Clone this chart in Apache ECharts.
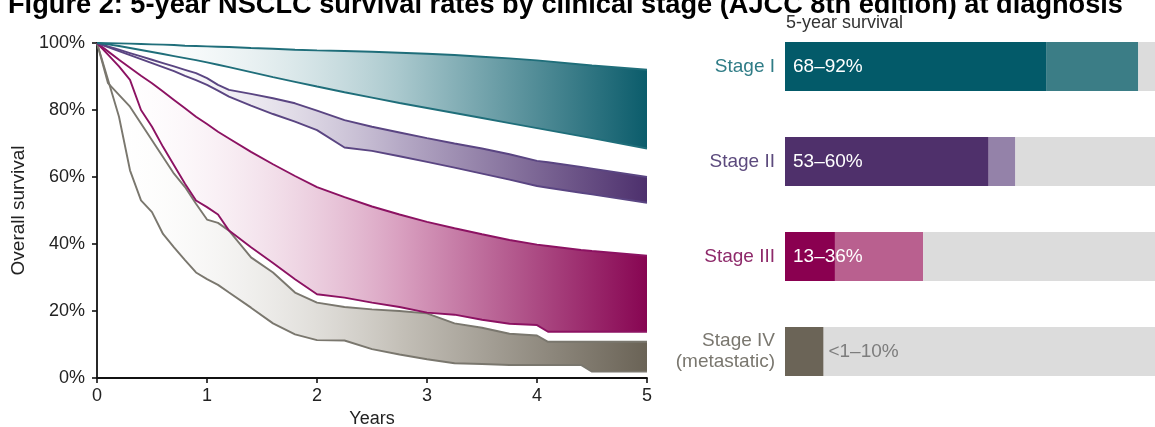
<!DOCTYPE html>
<html>
<head>
<meta charset="utf-8">
<script src="https://cdn.jsdelivr.net/npm/echarts@6/dist/echarts.min.js"></script>
<style>
html,body{margin:0;padding:0;background:#fff;overflow:hidden;width:1155px;height:427px;}
#chart{width:1169px;height:427px;}
</style>
</head>
<body>
<div id="chart"></div>
<script>
// ---- Data ----
var titleText = 'Figure 2: 5-year NSCLC survival rates by clinical stage (AJCC 8th edition) at diagnosis';
var years = [0, 0.1, 0.2, 0.3, 0.4, 0.5, 0.6, 0.7, 0.8, 0.9, 1.0, 1.1, 1.2, 1.4, 1.6, 1.8, 2.0, 2.25, 2.5, 2.75, 3.0, 3.25, 3.5, 3.75, 4.0, 4.1, 4.4, 4.5, 5.0];
var stage1Hi = [100, 99.95, 99.9, 99.8, 99.7, 99.6, 99.5, 99.4, 99.2, 99.1, 99, 98.9, 98.8, 98.5, 98.3, 98, 97.8, 97.6, 97.4, 97.1, 96.8, 96.4, 95.9, 95.4, 94.8, 94.5, 93.6, 93.3, 92];
var stage1Lo = [100, 99.6, 99.1, 98.5, 97.9, 97.3, 96.7, 96.1, 95.5, 94.9, 94.2, 93.5, 92.8, 91.3, 89.8, 88.4, 87, 85.3, 83.7, 82.1, 80.6, 79.1, 77.6, 76.1, 74.6, 74, 72.2, 71.6, 68.5];
var stage2Hi = [100, 99, 98, 97, 96, 95, 94, 93, 92, 91, 89.5, 87.5, 86, 84.8, 83.5, 82, 79.8, 77, 75, 73.3, 71.6, 70, 68.5, 66.8, 64.8, 64.4, 63, 62.5, 60];
var stage2Lo = [100, 98.8, 97.6, 96.4, 95.2, 94, 92.8, 91.6, 90.2, 88.9, 87.5, 85.8, 84, 81.3, 78.8, 76.5, 74, 68.8, 67.8, 66.2, 64.5, 62.8, 61, 59.2, 57.3, 56.8, 55.3, 54.8, 52.3];
var stage3Hi = [100, 97.5, 95, 92.6, 90.2, 88, 85.5, 83, 80.5, 78, 75.8, 73.5, 71.5, 67.5, 63.8, 60.3, 57, 54, 51.2, 48.8, 46.6, 44.7, 42.9, 41.2, 39.8, 39.4, 38.2, 37.9, 36.5];
var stage3Lo = [100, 96.5, 93, 89, 80, 75, 69, 63.5, 58, 53, 51, 48.8, 44, 39, 34.3, 29.5, 25, 24, 22.5, 21.2, 19.5, 18.9, 17.4, 16.2, 15.8, 13.8, 13.8, 13.8, 13.8];
var stage4Hi = [100, 88, 84.5, 81, 76, 71, 66, 61, 57, 52, 47.3, 46.3, 44, 36, 31.5, 25.5, 22.5, 21.2, 20.5, 20, 19.3, 16.3, 15, 13.2, 12.7, 10.8, 10.8, 10.8, 10.8];
var stage4Lo = [100, 89, 78, 62, 53, 49.5, 43, 39, 35.2, 31.5, 29.5, 27.8, 25.5, 21, 16.3, 13, 11.3, 11.2, 8.6, 7, 5.6, 4.4, 4.2, 3.9, 3.9, 3.9, 3.9, 1.9, 1.9];

var stageNames = ['Stage I', 'Stage II', 'Stage III', 'Stage IV\n(metastatic)'];
var barDarkEnd = [68, 53, 13, 10];
var barLightEnd = [92, 60, 36, 10];
var barLabels = ['68–92%', '53–60%', '13–36%', '<1–10%'];
var barTitle = '5-year survival';
var yTickLabels = ['0%', '20%', '40%', '60%', '80%', '100%'];

// ---- Styles ----
var FONT = '"Liberation Sans", Arial, sans-serif';
var lineColors = ['#1f6e7a', '#5a4582', '#8c1262', '#7a776e'];
var fillColors = ['#0b5c6b', '#4d306d', '#870552', '#6a6356'];
var midColors = ['#a9c8cd', '#b6aac6', '#d9a0c0', '#c4c0b8'];
var darkBar = ['#035a69', '#4f306b', '#8a0050', '#6b6457'];
var lightBar = ['#3b7d86', '#9482a9', '#b9608f', '#b0aca4'];
var stageLabelColors = ['#2f7c86', '#5c4a7d', '#8e2a6a', '#7a776f'];

function pairs(arr) { return years.map(function (t, i) { return [t, arr[i]]; }); }

var his = [stage1Hi, stage2Hi, stage3Hi, stage4Hi];
var los = [stage1Lo, stage2Lo, stage3Lo, stage4Lo];

var series = [];
// bands (custom polygons through the axis scales)
[3, 2, 1, 0].forEach(function (k) {
  series.push({
    type: 'custom', coordinateSystem: 'cartesian2d', xAxisIndex: 0, yAxisIndex: 0,
    data: [[0, 0]], silent: true, z: 2,
    renderItem: function (params, api) {
      var pts = [];
      for (var i = 0; i < years.length; i++) pts.push(api.coord([years[i], his[k][i]]));
      for (var j = years.length - 1; j >= 0; j--) pts.push(api.coord([years[j], los[k][j]]));
      return {
        type: 'polygon', shape: { points: pts },
        style: {
          fill: new echarts.graphic.LinearGradient(0, 0, 1, 0, [
            { offset: 0, color: 'rgba(255,255,255,0)' },
            { offset: 0.55, color: midColors[k] },
            { offset: 1, color: fillColors[k] }
          ])
        }
      };
    }
  });
});
// curves
[3, 2, 1, 0].forEach(function (k) {
  [los[k], his[k]].forEach(function (arr) {
    series.push({
      type: 'line', xAxisIndex: 0, yAxisIndex: 0,
      data: pairs(arr), showSymbol: false, symbol: 'none', silent: true,
      lineStyle: { color: lineColors[k], width: 1.9 }, z: 3
    });
  });
});

// bars
series.push({
  type: 'bar', stack: 'b', xAxisIndex: 1, yAxisIndex: 1, barWidth: 49, z: 5,
  data: barDarkEnd.map(function (v, i) {
    var item = { value: v, itemStyle: { color: darkBar[i] } };
    if (i === 3) item.label = { position: 'right', color: '#7d7d7d', distance: 5 };
    return item;
  }),
  label: {
    show: true, position: 'insideLeft', distance: 8, color: '#ffffff', fontSize: 19, fontFamily: FONT,
    formatter: function (p) { return barLabels[p.dataIndex]; }
  },
  silent: true
});
series.push({
  type: 'bar', stack: 'b', xAxisIndex: 1, yAxisIndex: 1, barWidth: 49, z: 4,
  data: barLightEnd.map(function (v, i) { return { value: v - barDarkEnd[i], itemStyle: { color: lightBar[i] } }; }),
  silent: true
});
series.push({
  type: 'bar', stack: 'b', xAxisIndex: 1, yAxisIndex: 1, barWidth: 49, z: 4,
  data: barLightEnd.map(function (v) { return 100 - v; }),
  itemStyle: { color: '#dcdcdc' },
  silent: true
});

var richStyles = {};
stageLabelColors.forEach(function (c, i) {
  richStyles['s' + i] = { color: c, fontSize: 19, fontFamily: FONT, lineHeight: 21, align: 'right' };
});

var chart = echarts.init(document.getElementById('chart'), null, { renderer: 'canvas' });
chart.setOption({
  animation: false,
  backgroundColor: '#ffffff',
  textStyle: { fontFamily: FONT },
  graphic: [
    { type: 'text', left: 8, top: -8, style: { text: titleText, font: 'bold 27.2px ' + FONT, fill: '#000' } },
    { type: 'text', left: 786, top: 14, style: { text: barTitle, font: '18px ' + FONT, fill: '#333' } }
  ],
  grid: [
    { left: 97, top: 43, width: 550, height: 335, outerBoundsMode: 'none', containLabel: false },
    { left: 785, top: 19, width: 384, height: 380, outerBoundsMode: 'none', containLabel: false }
  ],
  xAxis: [
    {
      gridIndex: 0, type: 'value', min: 0, max: 5, interval: 1,
      axisLine: { lineStyle: { color: '#111', width: 1.8 } },
      axisTick: { show: true, length: 5, lineStyle: { color: '#111', width: 1.6 } },
      axisLabel: { fontSize: 18, color: '#222', margin: 9, fontFamily: FONT },
      splitLine: { show: false },
      name: 'Years', nameLocation: 'middle', nameGap: 31,
      nameTextStyle: { fontSize: 18, color: '#222', fontFamily: FONT }
    },
    { gridIndex: 1, type: 'value', min: 0, max: 100, show: false }
  ],
  yAxis: [
    {
      gridIndex: 0, type: 'value', min: 0, max: 100, interval: 20,
      axisLine: { show: true, lineStyle: { color: '#111', width: 1.8 } },
      axisTick: { show: true, length: 5, lineStyle: { color: '#111', width: 1.6 } },
      axisLabel: { fontSize: 18, color: '#222', margin: 12, fontFamily: FONT,
        formatter: function (v) { return yTickLabels[v / 20]; } },
      splitLine: { show: false },
      name: 'Overall survival', nameLocation: 'middle', nameGap: 69, nameRotate: 90,
      nameTextStyle: { fontSize: 19, color: '#222', fontFamily: FONT }
    },
    {
      gridIndex: 1, type: 'category', inverse: true, data: stageNames,
      axisLine: { show: false }, axisTick: { show: false },
      axisLabel: {
        margin: 10, align: 'right',
        formatter: function (v, i) {
          return v.split('\n').map(function (s) { return '{s' + i + '|' + s + '}'; }).join('\n');
        },
        rich: richStyles
      }
    }
  ],
  series: series
});
</script>
</body>
</html>
